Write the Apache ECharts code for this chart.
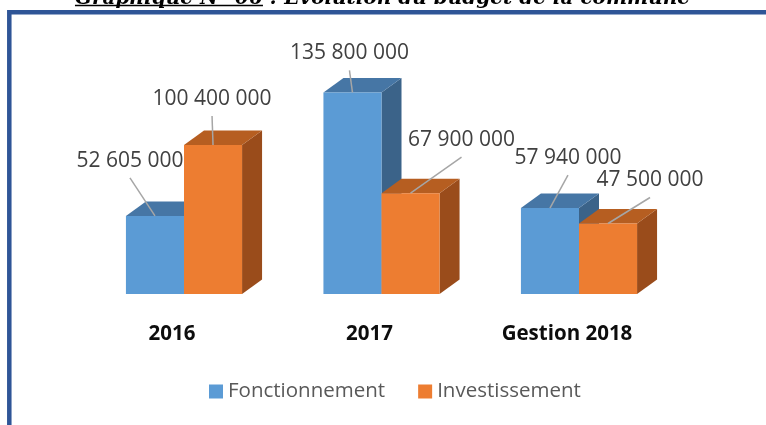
<!DOCTYPE html>
<html>
<head>
<meta charset="utf-8">
<script src="https://cdn.jsdelivr.net/npm/echarts@6/dist/echarts.min.js"></script>
<style>
  html, body { margin: 0; padding: 0; background: #fff; }
  #main { width: 766px; height: 425px; }
</style>
</head>
<body>
<div id="main"></div>
<script>
// données
const categories = ['2016', '2017', 'Gestion 2018']
const fonctionnement = [52605000, 135800000, 57940000]
const investissement = [100400000, 67900000, 47500000]

const TITLE = 'Graphique N° 06 : Evolution du budget de la commune'
const TITLE_UNDERLINED = 'Graphique N° 06'
const TITLE_FONT = 'italic bold 20px "DejaVu Serif"'

// décalage des étiquettes par rapport au sommet de chaque barre (px)
const labelShift = {
  Fonctionnement: [[-25, -55], [-3, -39], [18, -50]],
  Investissement: [[-1, -46], [51, -53], [42, -43]]
}

const DEPTH_X = 20
const DEPTH_Y = 14.5
const blueColors = ['#5B9BD5', '#4676A5', '#3B6389']
const orangeColors = ['#ED7D31', '#B65E21', '#9A4C1B']

function fmt(v) {
  return String(v).replace(/\B(?=(\d{3})+(?!\d))/g, ' ')
}

// barre 3D : face avant, dessus, côté droit + étiquette avec trait
function bar3d(side, colors, shifts) {
  return function (params, api) {
    const idx = api.value(0)
    const val = api.value(1)
    const top = api.coord([idx, val])
    const base = api.coord([idx, 0])
    const w = api.size([1, 0])[0] * 0.294
    const x0 = side < 0 ? top[0] - w : top[0]
    const x1 = x0 + w
    const yt = top[1]
    const yb = base[1]
    const cx = (x0 + x1) / 2
    const s = shifts[params.dataIndex]
    const lx = cx + s[0]
    const ly = yt + s[1]
    return {
      type: 'group',
      children: [
        {
          type: 'polygon',
          shape: { points: [[x1, yt], [x1 + DEPTH_X, yt - DEPTH_Y], [x1 + DEPTH_X, yb - DEPTH_Y], [x1, yb]] },
          style: { fill: colors[2] }
        },
        {
          type: 'polygon',
          shape: { points: [[x0, yt], [x0 + DEPTH_X, yt - DEPTH_Y], [x1 + DEPTH_X, yt - DEPTH_Y], [x1, yt]] },
          style: { fill: colors[1] }
        },
        {
          type: 'rect',
          shape: { x: x0, y: yt, width: w, height: yb - yt },
          style: { fill: colors[0] }
        },
        {
          type: 'line',
          shape: { x1: lx, y1: ly + 17, x2: cx, y2: yt },
          style: { stroke: '#a6a6a6', lineWidth: 1.5 }
        },
        {
          type: 'text',
          x: lx,
          y: ly,
          style: {
            text: fmt(val),
            fill: '#404040',
            font: '21px "Open Sans"',
            align: 'center',
            verticalAlign: 'middle'
          }
        }
      ]
    }
  }
}

// soulignement du début du titre
const ctx = document.createElement('canvas').getContext('2d')
ctx.font = TITLE_FONT
const titleW = ctx.measureText(TITLE).width
const underW = ctx.measureText(TITLE_UNDERLINED).width
const titleX = 382.5
const ulStart = titleX - titleW / 2

const option = {
  animation: false,
  grid: { left: 85.25, right: 88.25, top: 71.4, bottom: 131 },
  xAxis: {
    type: 'category',
    data: categories,
    axisLine: { show: false },
    axisTick: { show: false },
    axisLabel: {
      fontFamily: 'Open Sans',
      fontWeight: 'bold',
      fontSize: 20.5,
      color: '#0d0d0d',
      margin: 30,
      padding: [0, 24, 0, 0]
    }
  },
  yAxis: { type: 'value', min: 0, max: 150000000, show: false },
  legend: {
    data: ['Fonctionnement', 'Investissement'],
    left: 209,
    top: 381,
    padding: 0,
    icon: 'rect',
    itemWidth: 14,
    itemHeight: 14,
    itemGap: 33,
    textStyle: { fontFamily: 'Open Sans', fontSize: 20.5, color: '#595959' }
  },
  graphic: [
    {
      type: 'rect',
      shape: { x: 9.3, y: 12.3, width: 900, height: 600 },
      style: { fill: 'none', stroke: '#2F5597', lineWidth: 4.5 }
    },
    {
      type: 'text',
      x: titleX,
      y: 9,
      style: { text: TITLE, font: TITLE_FONT, fill: '#000', align: 'center', verticalAlign: 'bottom' }
    },
    {
      type: 'line',
      shape: { x1: ulStart, y1: 5.5, x2: ulStart + underW, y2: 5.5 },
      style: { stroke: '#000', lineWidth: 1.5 }
    }
  ],
  series: [
    {
      name: 'Fonctionnement',
      type: 'custom',
      z: 2,
      itemStyle: { color: blueColors[0] },
      encode: { x: 0, y: 1 },
      data: fonctionnement.map((v, i) => [i, v]),
      renderItem: bar3d(-1, blueColors, labelShift.Fonctionnement)
    },
    {
      name: 'Investissement',
      type: 'custom',
      z: 3,
      itemStyle: { color: orangeColors[0] },
      encode: { x: 0, y: 1 },
      data: investissement.map((v, i) => [i, v]),
      renderItem: bar3d(1, orangeColors, labelShift.Investissement)
    }
  ]
}

echarts.init(document.getElementById('main')).setOption(option)
</script>
</body>
</html>
